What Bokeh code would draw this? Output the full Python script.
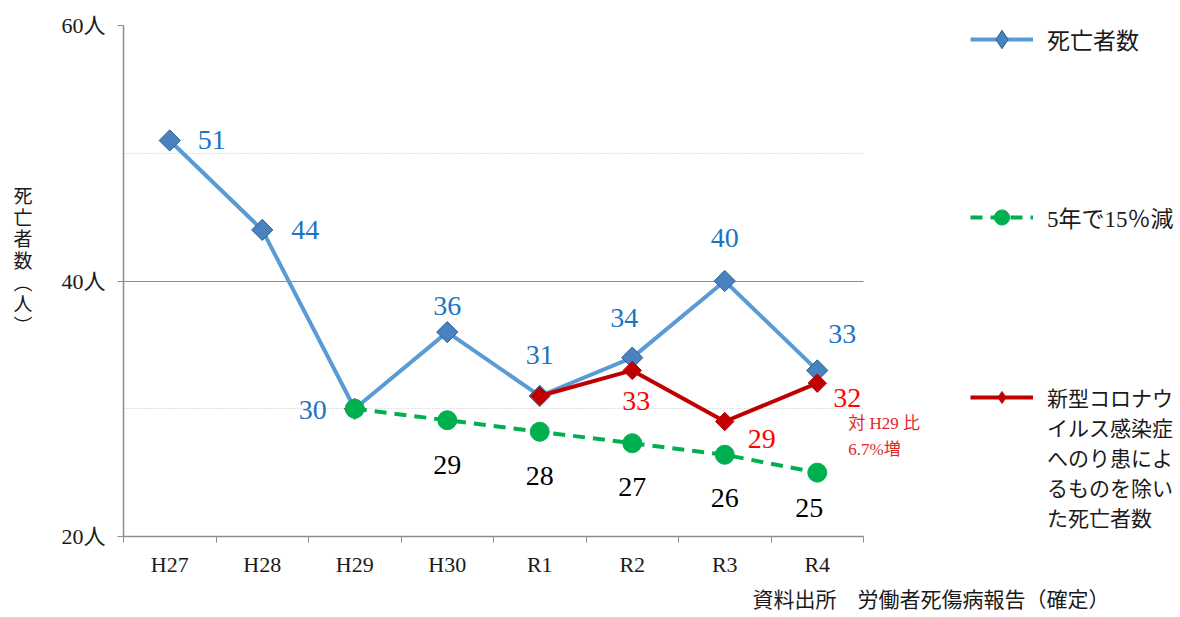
import math
from bokeh.plotting import figure
from bokeh.models import (ColumnDataSource, FixedTicker, Label, LabelSet, Legend, LegendItem,
                          Title)
from bokeh.core.properties import value
from bokeh.embed import file_html
from bokeh.resources import INLINE

# ---- data ----
categories = ["H27", "H28", "H29", "H30", "R1", "R2", "R3", "R4"]
deaths = [51, 44, 30, 36, 31, 34, 40, 33]
deaths_labels = ["51", "44", "30", "36", "31", "34", "40", "33"]

target_cats = ["H29", "H30", "R1", "R2", "R3", "R4"]
target = [30, 29.1, 28.2, 27.3, 26.4, 25]
target_labels = ["", "29", "28", "27", "26", "25"]

excl_cats = ["R1", "R2", "R3", "R4"]
excl_covid = [31, 33, 29, 32]
excl_labels = ["", "33", "29", "32"]

y_ticks = [20, 40, 60]
y_minor = [30, 50]
y_tick_labels = ["20人", "40人", "60人"]

series_names = ["死亡者数", "5年で15％減",
                "新型コロナウ\nイルス感染症\nへのり患によ\nるものを除い\nた死亡者数"]
y_title = "死\n亡\n者\n数\n︵\n人\n︶"
note_text = "対 H29 比\n6.7%増"
source_text = "資料出所　労働者死傷病報告（確定）"

# ---- styling / layout ----
FONT = "Liberation Serif, Noto Sans CJK JP"
BLUE = "#5b9bd5"
BLUE_TXT = "#1a75c2"
RED = "#c00000"
RED_TXT = "#ff0000"
GREEN = "#00b050"
AXIS = "#8c8c8c"

n = len(categories)
pos = {c: i + 0.5 for i, c in enumerate(categories)}

# the frame extends right of the last category so the note and legend are not clipped
p = figure(width=1180, height=617, x_range=(0, 11.427), y_range=(20, 60),
           output_backend="svg", toolbar_location=None,
           min_border_left=123, min_border_right=0, min_border_top=25, min_border_bottom=81)
p.outline_line_color = None
p.background_fill_color = "white"
p.border_fill_color = "white"

# axes
xt = FixedTicker(ticks=[pos[c] for c in categories], minor_ticks=list(range(n + 1)))
p.xaxis.ticker = xt
p.xaxis.bounds = (0, n)
p.xaxis.major_label_overrides = {pos[c]: c for c in categories}
p.xaxis.major_tick_line_color = None
p.xaxis.major_tick_out = 0
p.xaxis.major_tick_in = 0
p.xaxis.minor_tick_out = 6
p.xaxis.minor_tick_in = 0
p.xaxis.minor_tick_line_color = AXIS
p.xaxis.axis_line_color = AXIS
p.xaxis.axis_line_width = 1.5
p.xaxis.major_label_standoff = 9
p.xaxis.major_label_text_font = FONT
p.xaxis.major_label_text_font_size = "22px"
p.xaxis.major_label_text_color = "#1a1a1a"

yt = FixedTicker(ticks=y_ticks, minor_ticks=y_minor)
p.yaxis.ticker = yt
p.yaxis.major_label_overrides = dict(zip(y_ticks, y_tick_labels))
p.yaxis.minor_tick_line_color = None
p.yaxis.major_tick_out = 6
p.yaxis.major_tick_in = 0
p.yaxis.major_tick_line_color = AXIS
p.yaxis.axis_line_color = AXIS
p.yaxis.axis_line_width = 1.5
p.yaxis.major_label_standoff = 12
p.yaxis.major_label_text_font = FONT
p.yaxis.major_label_text_font_size = "22px"
p.yaxis.major_label_text_color = "#1a1a1a"
p.yaxis.axis_label = y_title + "\n\n"
p.yaxis.axis_label_orientation = "horizontal"
p.yaxis.axis_label_standoff = 26
p.yaxis.axis_label_text_font = "Noto Sans CJK JP"
p.yaxis.axis_label_text_font_size = "19px"
p.yaxis.axis_label_text_font_style = "normal"
p.yaxis.axis_label_text_line_height = 0.8
p.yaxis.axis_label_text_color = "#1a1a1a"

p.xgrid.grid_line_color = None
p.ygrid.ticker = yt
p.ygrid.cross_bounds = (0, n)
p.ygrid.grid_line_color = AXIS
p.ygrid.grid_line_width = 1
p.ygrid.minor_grid_line_color = "#c4c4c4"
p.ygrid.minor_grid_line_dash = "1 2"

# series
src_d = ColumnDataSource(dict(x=[pos[c] for c in categories], y=deaths, text=deaths_labels,
                              dx=[42, 43, -42, 0, 0, -8, 0, 25], dy=[0, 0, -1, 26, 41, 40, 43, 36]))
src_t = ColumnDataSource(dict(x=[pos[c] for c in target_cats], y=target, text=target_labels,
                              dx=[0, 0, 0, 0, 0, -8], dy=[0, -45, -44, -44, -43, -35]))
src_e = ColumnDataSource(dict(x=[pos[c] for c in excl_cats], y=excl_covid, text=excl_labels,
                              dx=[0, 4, 37, 30], dy=[0, -31, -17, -15]))

l_d = p.line("x", "y", source=src_d, line_color=BLUE, line_width=4)
# legend key (legends draw markers unrotated, so a diamond marker is used there);
# drawn tiny underneath the real markers
key_d = p.scatter("x", "y", source=src_d, marker="diamond", size=1,
                  fill_color="#4a82c0", line_color="#2f5f8f")
m_d = p.scatter("x", "y", source=src_d, marker="square", angle=math.pi / 4, size=15,
                fill_color="#4a82c0", line_color="#2f5f8f", line_width=1)

l_t = p.line("x", "y", source=src_t, line_color=GREEN, line_width=4, line_dash="12 8")
m_t = p.scatter("x", "y", source=src_t, marker="circle", size=19,
                fill_color=GREEN, line_color=GREEN)

l_e = p.line("x", "y", source=src_e, line_color=RED, line_width=4)
key_e = p.scatter("x", "y", source=src_e, marker="diamond", size=1,
                  fill_color=RED, line_color=RED)
m_e = p.scatter("x", "y", source=src_e, marker="square", angle=math.pi / 4, size=13,
                fill_color=RED, line_color=RED)

for src, col in ((src_d, BLUE_TXT), (src_t, "black"), (src_e, RED_TXT)):
    p.add_layout(LabelSet(x="x", y="y", text="text", source=src, x_offset="dx", y_offset="dy",
                          text_align="center", text_baseline="middle",
                          text_font=value(FONT), text_font_size="28px", text_color=col))

# note next to the last red point
p.add_layout(Label(x=pos[excl_cats[-1]], y=excl_covid[-1], x_offset=31, y_offset=-53,
                   text=note_text, text_align="left", text_baseline="middle",
                   text_line_height=1.35,
                   text_font=FONT, text_font_size="17px", text_color="#e0262b"))

# legends (locations in screen px from the frame's bottom-left corner)
LEG = dict(orientation="vertical", glyph_width=63, label_standoff=14, spacing=0,
           padding=0, margin=0, border_line_color=None, background_fill_alpha=0,
           label_text_font=FONT, label_text_color="#1a1a1a", label_text_baseline="middle")
p.add_layout(Legend(items=[LegendItem(label=series_names[0], renderers=[l_d, key_d])],
                    location=(847, 474), glyph_height=46, label_height=46,
                    label_text_font_size="23px", **LEG), "center")
p.add_layout(Legend(items=[LegendItem(label=series_names[1], renderers=[l_t, m_t])],
                    location=(847, 300), glyph_height=38, label_height=38,
                    label_text_font_size="23px", **LEG), "center")
red_lines = series_names[2].split("\n")
red_items = [LegendItem(label=red_lines[0], renderers=[l_e, key_e])] + \
            [LegendItem(label=t, renderers=[]) for t in red_lines[1:]]
p.add_layout(Legend(items=red_items, location=(847, 4), glyph_height=30, label_height=30,
                    label_text_font_size="21px", **LEG), "center")

p.add_layout(Title(text=source_text, align="left", offset=629, standoff=12,
                   text_font=FONT, text_font_size="21px", text_font_style="normal",
                   text_color="#1a1a1a"), "below")

open("out.html", "w").write(file_html(p, INLINE))
